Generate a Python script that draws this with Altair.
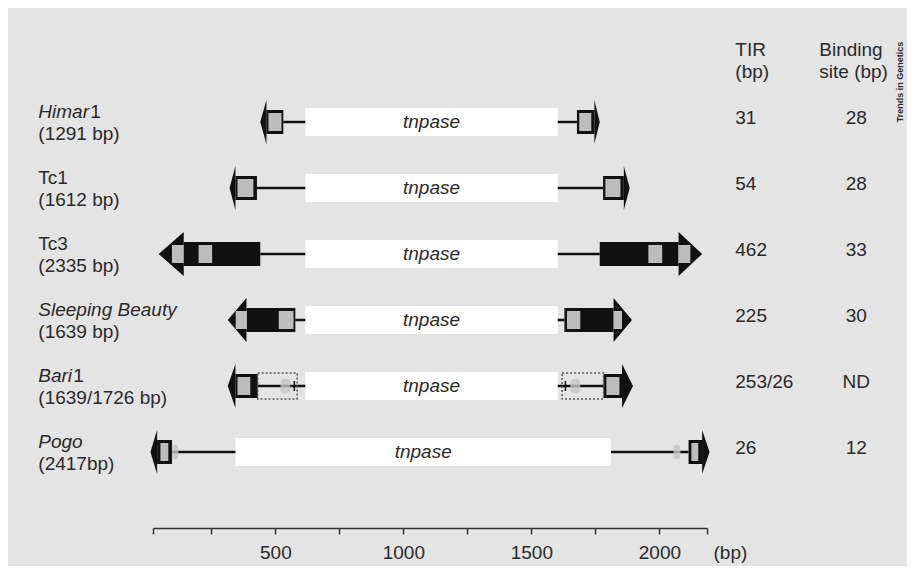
import altair as alt
import pandas as pd

# ---------------- data (bp coordinates) ----------------
ROWS = [1, 2, 3, 4, 5, 6]
name_main = ["Himar", "Tc1", "Tc3", "Sleeping Beauty", "Bari", "Pogo"]
name_italic = [True, False, False, True, True, True]
name_suffix = ["1", "", "", "", "1", ""]
sizes = ["(1291 bp)", "(1612 bp)", "(2335 bp)", "(1639 bp)", "(1639/1726 bp)", "(2417bp)"]
tir = ["31", "54", "462", "225", "253/26", "26"]
binding = ["28", "28", "33", "30", "ND", "12"]

tnp_start = [617, 617, 617, 617, 617, 344]
tnp_end = [1603, 1603, 1603, 1603, 1603, 1811]
left_tip = [441, 321, 44, 314, 314, 12]
left_back = [465, 344, 142, 387, 344, 38]
left_inner = [531, 428, 441, 578, 431, 96]
right_inner = [1678, 1780, 1767, 1629, 1782, 2114]
right_back = [1746, 1861, 2075, 1821, 1854, 2167]
right_tip = [1767, 1884, 2167, 1893, 1897, 2196]

site_row = [1, 1, 2, 2, 3, 3, 3, 3, 4, 4, 4, 4, 5, 5, 6, 6]
site_start = [473, 1687, 352, 1789, 96, 200, 1957, 2074, 345, 513, 1639, 1821, 352, 1793, 51, 2125]
site_end = [524, 1734, 414, 1848, 142, 253, 2011, 2121, 389, 571, 1691, 1854, 402, 1844, 82, 2152]

dotted_row = [5, 5]
dotted_start = [431, 1620]
dotted_end = [585, 1782]

blob_row = [5, 5, 6, 6]
blob_start = [520, 1652, 96, 2055]
blob_end = [559, 1691, 121, 2082]

tick_row = [5, 5]
tick_pos = [574, 1633]

axis_ticks = [22, 250, 500, 750, 1000, 1250, 1500, 1750, 2000, 2186]

# ---------------- styling constants ----------------
ROW_PX = 66.0
H_PX = 472
W_PX = 554
TNP_H = 14 / ROW_PX
BODY_H = 12 / ROW_PX
SITE_H = 9 / ROW_PX
ARROW_H = 22 / ROW_PX
DOT_H = 13 / ROW_PX
TICK_H = 5 / ROW_PX
FONT = "Liberation Sans"
TXT = "#2a2a2a"
BLACK = "#111111"
SITE = "#bdbdbd"
BG = "#e4e4e4"
FS = 19

# ---------------- tables built from the arrays ----------------
backbone = pd.DataFrame({"row": ROWS, "x1": left_inner, "x2": right_inner})
tnp = pd.DataFrame({"row": ROWS, "x1": tnp_start, "x2": tnp_end,
                    "mid": [(a + b) / 2 for a, b in zip(tnp_start, tnp_end)],
                    "t": ["tnpase"] * 6})
tnp["ylo"] = tnp["row"] - TNP_H
tnp["yhi"] = tnp["row"] + TNP_H

body = pd.DataFrame({
    "row": ROWS * 2,
    "x1": left_back + right_inner,
    "x2": left_inner + right_back,
})
body["ylo"] = body["row"] - BODY_H
body["yhi"] = body["row"] + BODY_H

arrow_recs = []
for i, r in enumerate(ROWS):
    arrow_recs += [
        {"id": f"L{r}", "x": left_tip[i], "ylo": r, "yhi": r},
        {"id": f"L{r}", "x": left_back[i], "ylo": r - ARROW_H, "yhi": r + ARROW_H},
        {"id": f"R{r}", "x": right_back[i], "ylo": r - ARROW_H, "yhi": r + ARROW_H},
        {"id": f"R{r}", "x": right_tip[i], "ylo": r, "yhi": r},
    ]
arrows = pd.DataFrame(arrow_recs)

sites = pd.DataFrame({"row": site_row, "x1": site_start, "x2": site_end})
sites["ylo"] = sites["row"] - SITE_H
sites["yhi"] = sites["row"] + SITE_H

dotted = pd.DataFrame({"row": dotted_row, "x1": dotted_start, "x2": dotted_end})
dotted["ylo"] = dotted["row"] - DOT_H
dotted["yhi"] = dotted["row"] + DOT_H

blobs = pd.DataFrame({"row": blob_row, "x1": blob_start, "x2": blob_end})
blobs["ylo"] = blobs["row"] - SITE_H * 0.8
blobs["yhi"] = blobs["row"] + SITE_H * 0.8

ticks = pd.DataFrame({"row": tick_row, "x": tick_pos})
ticks["ylo"] = ticks["row"] - TICK_H
ticks["yhi"] = ticks["row"] + TICK_H

labels = pd.DataFrame({"row": ROWS, "name": name_main, "italic": name_italic,
                       "suffix": name_suffix, "size": sizes, "tir": tir, "bind": binding})

# ---------------- scales / axis ----------------
xs = alt.Scale(domain=[22, 2186], nice=False, zero=False)
ys = alt.Scale(domain=[0, H_PX / ROW_PX], reverse=True, nice=False, zero=False)
x_axis = alt.Axis(
    values=axis_ticks,
    format="d",
    labelExpr="datum.value % 500 == 0 ? datum.label : ''",
    grid=False,
    tickSize=6,
    tickWidth=1.5,
    tickColor="#333333",
    domainColor="#333333",
    domainWidth=1.5,
    labelFont=FONT,
    labelFontSize=FS,
    labelColor=TXT,
    labelPadding=9,
    labelOverlap=False,
    labelFlush=False,
    titleFont=FONT,
    titleFontSize=FS,
    titleFontWeight="normal",
    titleColor=TXT,
    titleAngle=0,
    titleAlign="left",
    titleBaseline="middle",
    titleX=W_PX + 6,
    titleY=24,
)


def X(f):
    return alt.X(f, type="quantitative", scale=xs, axis=x_axis, title="(bp)")


def Y(f):
    return alt.Y(f, type="quantitative", scale=ys, axis=None)


def rects(df, **kw):
    return alt.Chart(df).mark_rect(**kw).encode(
        x=X("x1"), x2=alt.X2("x2"), y=Y("ylo"), y2=alt.Y2("yhi"))


layers = []
layers.append(alt.Chart(backbone).mark_rule(color=BLACK, strokeWidth=2.5).encode(
    x=X("x1"), x2=alt.X2("x2"), y=Y("row")))
layers.append(rects(tnp, color="white"))
layers.append(rects(body, color=BLACK))
layers.append(alt.Chart(arrows).mark_area(color=BLACK, orient="vertical").encode(
    x=X("x"), y=alt.Y("ylo", type="quantitative", scale=ys, axis=None, stack=None),
    y2=alt.Y2("yhi"), detail="id:N"))
layers.append(rects(sites, color=SITE))
layers.append(rects(dotted, fill=None, fillOpacity=0, stroke="#555555",
                    strokeWidth=1.5, strokeDash=[2, 2]))
layers.append(rects(blobs, color="#c4c4c4", opacity=0.8, cornerRadius=4))
layers.append(alt.Chart(ticks).mark_rule(color=BLACK, strokeWidth=1.5).encode(
    x=X("x"), y=Y("ylo"), y2=alt.Y2("yhi")))
layers.append(alt.Chart(tnp).mark_text(font=FONT, fontSize=FS, fontStyle="italic",
                                       color=TXT, baseline="middle").encode(
    x=X("mid"), y=Y("row"), text="t:N"))

LX = 38 - 152.7
base_txt = dict(font=FONT, fontSize=FS, color=TXT, align="left", baseline="middle")
layers.append(alt.Chart(labels).transform_filter("datum.italic").mark_text(
    fontStyle="italic", dy=-10, **base_txt).encode(x=alt.value(LX), y=Y("row"), text="name:N"))
layers.append(alt.Chart(labels).transform_filter("!datum.italic").mark_text(
    dy=-10, **base_txt).encode(x=alt.value(LX), y=Y("row"), text="name:N"))
suffix_dx = {"Himar": 52, "Bari": 35}
for nm, dx in suffix_dx.items():
    layers.append(alt.Chart(labels).transform_filter(f"datum.name == '{nm}'").mark_text(
        dy=-10, **base_txt).encode(x=alt.value(LX + dx), y=Y("row"), text="suffix:N"))
layers.append(alt.Chart(labels).mark_text(dy=12, **base_txt).encode(
    x=alt.value(LX), y=Y("row"), text="size:N"))
layers.append(alt.Chart(labels).mark_text(dy=-4, **base_txt).encode(
    x=alt.value(735 - 152.7), y=Y("row"), text="tir:N"))
layers.append(alt.Chart(labels).mark_text(
    dy=-4, **{**base_txt, "align": "center"}).encode(
    x=alt.value(856 - 152.7), y=Y("row"), text="bind:N"))


def header(text, px, py, **kw):
    opts = {**base_txt, **kw}
    return alt.Chart(pd.DataFrame({"t": [text]})).mark_text(**opts).encode(
        x=alt.value(px - 152.7), y=alt.value(py - 56), text="t:N")


layers += [
    header("TIR", 735, 50),
    header("(bp)", 735, 72),
    header("Binding", 819, 50),
    header("site (bp)", 819, 72),
    header("Trends in Genetics", 900, 82, fontSize=9, fontWeight="bold",
           angle=270, align="center"),
]

chart = alt.layer(*layers).properties(
    width=W_PX,
    height=H_PX,
    background=BG,
    padding={"left": 145, "top": 48, "right": 200, "bottom": 38},
    autosize=alt.AutoSizeParams(type="none"),
).configure_view(stroke=None)

chart.save("out.html", embed_options={"renderer": "svg", "actions": False})
